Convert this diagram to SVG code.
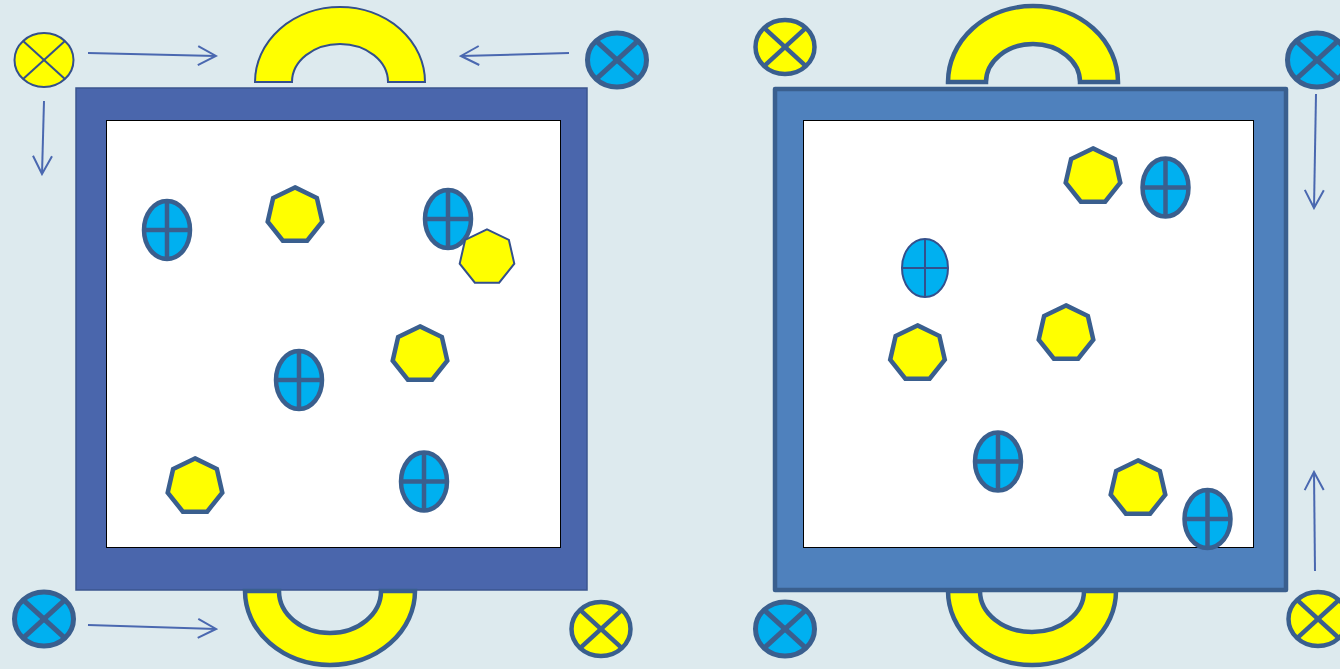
<svg xmlns="http://www.w3.org/2000/svg" xmlns:xlink="http://www.w3.org/1999/xlink" width="1340" height="669" viewBox="0 0 1340 669">
<style>
.bg{fill:#ddeaee}
.pnlL{fill:#4a66ac;stroke:#3b568f;stroke-width:1.5}
.pnlR{fill:#4f81bd;stroke:#3a5f8e;stroke-width:4.5;stroke-linejoin:round}
.inner{fill:#ffffff;stroke:#000000;stroke-width:1}
.arch{fill:#ffff00;stroke:#3a5f8e;stroke-width:4.5}
.archT{fill:#ffff00;stroke:#34508c;stroke-width:2}
.hep{fill:#ffff00;stroke:#3a5f8e;stroke-width:4.5;stroke-linejoin:miter}
.hepT{fill:#ffff00;stroke:#34508c;stroke-width:2}
.ell{fill:#00b0f0;stroke:#3a5f8e;stroke-width:4.5}
.ellT{fill:#00b0f0;stroke:#34508c;stroke-width:2}
.xy{fill:#ffff00;stroke:#3a5f8e;stroke-width:4.5}
.xyT{fill:#ffff00;stroke:#34508c;stroke-width:2}
.xb{fill:#00b0f0;stroke:#3a5f8e;stroke-width:5}
.conn{fill:none;stroke:#4a68b0;stroke-width:2}
</style>
<defs>
<marker id="ah" markerUnits="userSpaceOnUse" viewBox="0 0 22 22" markerWidth="22" markerHeight="22" refX="20" refY="11" orient="auto">
<path d="M2,1.5 L20,11 L2,20.5" fill="none" stroke="#4a68b0" stroke-width="2"/>
</marker>
<polygon id="hp" points="0,-26.6 21.89,-16.06 27.3,7.63 12.15,26.63 -12.15,26.63 -27.3,7.63 -21.89,-16.06"/>
<g id="ep">
<ellipse cx="0" cy="0" rx="23" ry="29"/>
<line x1="0" y1="-29" x2="0" y2="29"/>
<line x1="-23" y1="0" x2="23" y2="0"/>
</g>
<g id="xc">
<ellipse cx="0" cy="0" rx="29.5" ry="27"/>
<line x1="-20.9" y1="-19.1" x2="20.9" y2="19.1"/>
<line x1="-20.9" y1="19.1" x2="20.9" y2="-19.1"/>
</g>
</defs>
<rect class="bg" x="0" y="0" width="1340" height="669"/>

<g id="left-panel">
<rect class="pnlL" x="76" y="88" width="511" height="502"/>
<rect class="inner" x="106.5" y="120.5" width="454" height="427"/>
</g>
<g id="left-arch-top"><path class="archT" d="M255,82 A85,75 0 0 1 425,82 L388,82 A48,38 0 0 0 292,82 Z"/></g>
<g id="left-arch-bottom"><path class="arch" d="M245,591 A85,74 0 0 0 415,591 L381,591 A51,42 0 0 1 279,591 Z"/></g>

<g id="right-panel">
<rect class="pnlR" x="775" y="89" width="511" height="501"/>
<rect class="inner" x="803.5" y="120.5" width="450" height="427"/>
</g>
<g id="right-arch-top"><path class="arch" d="M948,82 A85,76 0 0 1 1118,82 L1080,82 A47,38 0 0 0 986,82 Z"/></g>
<g id="right-arch-bottom"><path class="arch" d="M948,591 A84,74 0 0 0 1116,591 L1084,591 A52,41 0 0 1 980,591 Z"/></g>

<g id="L-e1"><use href="#ep" class="ell" x="167" y="230"/></g>
<g id="L-h1"><use href="#hp" class="hep" x="295" y="214"/></g>
<g id="L-e2"><use href="#ep" class="ell" x="448" y="219"/></g>
<g id="L-h2"><use href="#hp" class="hepT" x="487" y="256"/></g>
<g id="L-e3"><use href="#ep" class="ell" x="299" y="380"/></g>
<g id="L-h3"><use href="#hp" class="hep" x="420" y="353"/></g>
<g id="L-h4"><use href="#hp" class="hep" x="195" y="485"/></g>
<g id="L-e4"><use href="#ep" class="ell" x="424" y="481.5"/></g>

<g id="R-h1"><use href="#hp" class="hep" x="1093" y="175"/></g>
<g id="R-e1"><use href="#ep" class="ell" x="1165.5" y="187.5"/></g>
<g id="R-e2"><use href="#ep" class="ellT" x="925" y="268"/></g>
<g id="R-h2"><use href="#hp" class="hep" x="917.5" y="352"/></g>
<g id="R-h3"><use href="#hp" class="hep" x="1066" y="332"/></g>
<g id="R-e3"><use href="#ep" class="ell" x="998" y="461.5"/></g>
<g id="R-h4"><use href="#hp" class="hep" x="1138" y="487"/></g>
<g id="R-e4"><use href="#ep" class="ell" x="1207.5" y="519"/></g>

<g id="L-x-tl"><use href="#xc" class="xyT" x="44" y="60"/></g>
<g id="L-x-tr"><use href="#xc" class="xb" x="617" y="60"/></g>
<g id="L-x-bl"><use href="#xc" class="xb" x="44" y="619"/></g>
<g id="L-x-br"><use href="#xc" class="xy" x="601" y="629"/></g>
<g id="R-x-tl"><use href="#xc" class="xy" x="785" y="47"/></g>
<g id="R-x-tr"><use href="#xc" class="xb" x="1317" y="60"/></g>
<g id="R-x-bl"><use href="#xc" class="xb" x="785" y="629"/></g>
<g id="R-x-br"><use href="#xc" class="xy" x="1318" y="619"/></g>

<g id="connectors">
<line class="conn" x1="88" y1="53" x2="216" y2="56" marker-end="url(#ah)"/>
<line class="conn" x1="569" y1="53" x2="461" y2="56" marker-end="url(#ah)"/>
<line class="conn" x1="44" y1="101" x2="42" y2="174" marker-end="url(#ah)"/>
<line class="conn" x1="88" y1="625" x2="216" y2="629" marker-end="url(#ah)"/>
<line class="conn" x1="1316" y1="94" x2="1314" y2="208" marker-end="url(#ah)"/>
<line class="conn" x1="1315" y1="571" x2="1314" y2="472" marker-end="url(#ah)"/>
</g>
</svg>
